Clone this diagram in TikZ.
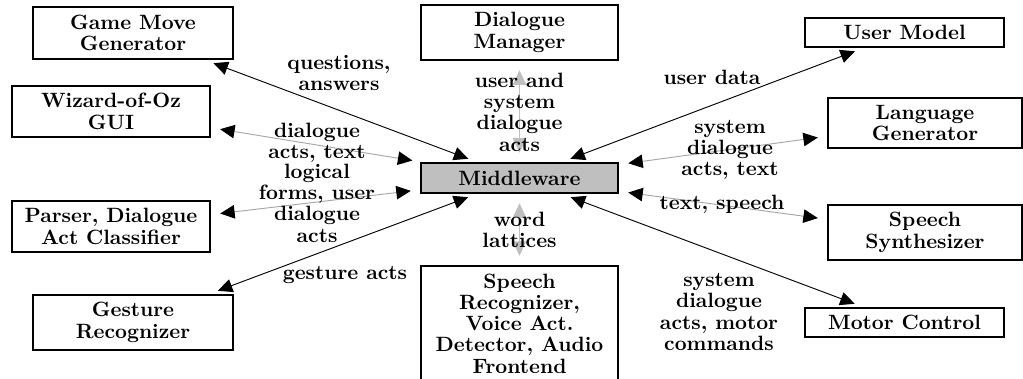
\documentclass[tikz,border=0pt]{standalone}
\usepackage{tikz}
\usetikzlibrary{arrows.meta}

\begin{document}
\begin{tikzpicture}[x=0.483pt, y=-0.483pt,
    every node/.style={font=\fontsize{10}{10.3}\selectfont\bfseries, align=center},
    module/.style={rectangle, draw, line width=0.9pt, inner sep=0pt},
    hub/.style={module, fill=black!25},
    tip/.style={Triangle[length=7pt, width=6.5pt]},
    link/.style={line width=0.45pt, {Triangle[length=7pt, width=6.5pt]}-{Triangle[length=7pt, width=6.5pt]},
                 shorten >=4.5pt, shorten <=4.5pt},
    greylink/.style={link, draw=black!35,
                 {Triangle[length=7pt, width=6.5pt, color=black]}-{Triangle[length=7pt, width=6.5pt, color=black]}},
    palelink/.style={link, draw=black!25}]
    % Fix the frame of the picture
    \clip (0,0) rectangle (1023,379);

    % Middleware in the centre
    \node[hub, minimum width=95.2pt, minimum height=14.5pt] (mw) at (519.5,178) {Middleware};

    % Modules on the left
    \node[module, minimum width=96.6pt, minimum height=25.1pt] (gmg) at (133,33) {Game Move\\Generator};
    \node[module, minimum width=95.6pt, minimum height=24.6pt] (woz) at (111,111.5) {Wizard-of-Oz\\GUI};
    \node[module, minimum width=95.6pt, minimum height=24.6pt] (parser) at (111,226.5) {Parser, Dialogue\\Act Classifier};
    \node[module, minimum width=96.6pt, minimum height=26.6pt] (gesture) at (133,322.5) {Gesture\\Recognizer};

    % Modules above and below
    \node[module, minimum width=95.2pt, minimum height=26.6pt] (dm) at (519.5,32.5) {Dialogue\\Manager};
    \node[module, minimum width=95.2pt, minimum height=55.5pt] (asr) at (519.5,323.5)
        {Speech\\Recognizer,\\Voice Act.\\Detector, Audio\\Frontend};

    % Modules on the right
    \node[module, minimum width=96.1pt, minimum height=14pt] (um) at (904.5,32.5) {User Model};
    \node[module, minimum width=93.7pt, minimum height=24.2pt] (lg) at (925,123) {Language\\Generator};
    \node[module, minimum width=93.7pt, minimum height=26.6pt] (tts) at (925,232.5) {Speech\\Synthesizer};
    \node[module, minimum width=96.1pt, minimum height=14pt] (motor) at (904.5,322.5) {Motor Control};

    % Connections to the middleware
    \draw[link] (gmg) -- (mw);
    \draw[greylink] (woz) -- (mw);
    \draw[greylink] (parser) -- (mw);
    \draw[link] (gesture) -- (mw);
    \draw[palelink] (dm) -- (mw);
    \draw[palelink] (asr) -- (mw);
    \draw[link] (um) -- (mw);
    \draw[greylink] (lg) -- (mw);
    \draw[greylink] (tts) -- (mw);
    \draw[link] (motor) -- (mw);

    % Edge labels
    \node (qa) at (339,73) {questions,\\answers};
    \node (wozacts) at (317,143) {dialogue\\acts, text};
    \node (lf) at (317,203) {logical\\forms, user\\dialogue\\acts};
    \node (gacts) at (345,275) {gesture acts};
    \node (dmacts) at (519.5,112) {user and\\system\\dialogue\\acts};
    \node (lattice) at (519.5,230) {word\\lattices};
    \node (udata) at (712,77) {user data};
    \node (lgacts) at (730,150) {system\\dialogue\\acts, text};
    \node (speech) at (722,204) {text, speech};
    \node (motoracts) at (719,312) {system\\dialogue\\acts, motor\\commands};
\end{tikzpicture}
\end{document}
